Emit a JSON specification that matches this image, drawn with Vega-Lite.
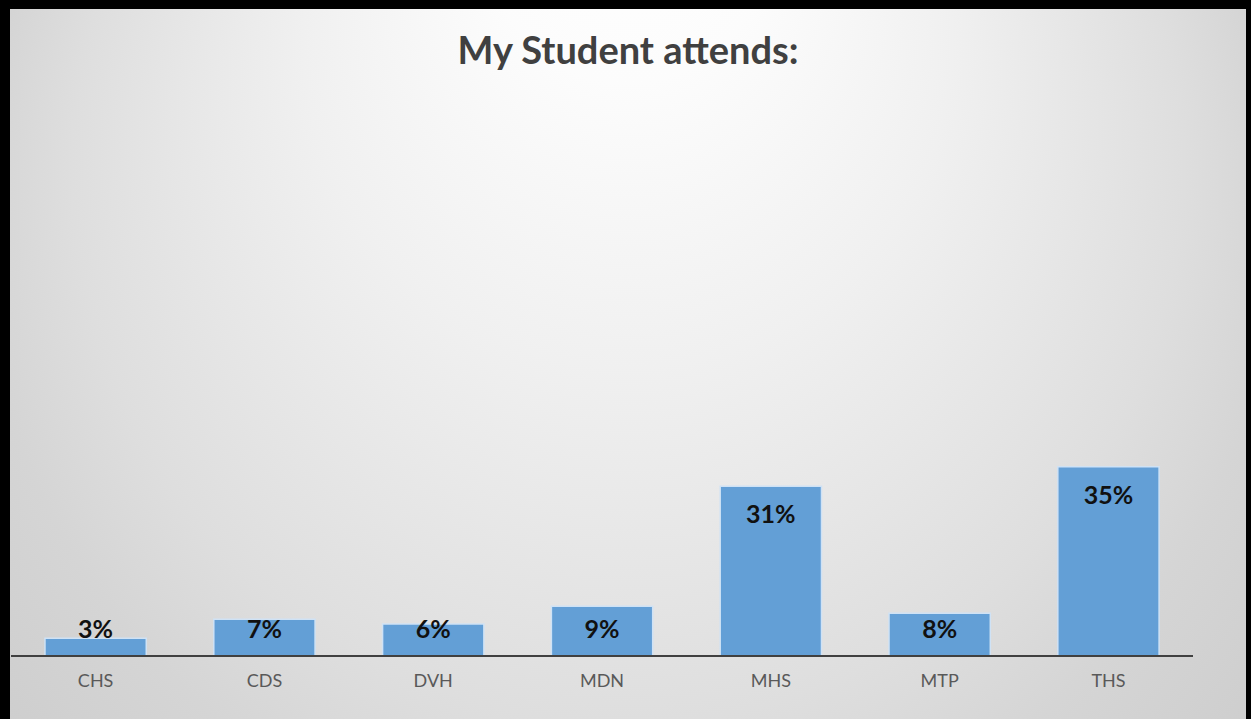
{
  "$schema": "https://vega.github.io/schema/vega-lite/v6.json",
  "width": 1251,
  "height": 719,
  "autosize": {"type": "fit", "contains": "padding"},
  "padding": {"left": 10, "top": 9, "right": 5, "bottom": 0},
  "background": "#000000",
  "title": {
    "text": "My Student attends:",
    "font": "Lato",
    "fontSize": 38,
    "fontWeight": "bold",
    "color": "#404040",
    "anchor": "middle",
    "offset": -63
  },
  "data": {
    "values": [
      {"school": "CHS", "share": 0.033},
      {"school": "CDS", "share": 0.068},
      {"school": "DVH", "share": 0.059},
      {"school": "MDN", "share": 0.092},
      {"school": "MHS", "share": 0.313},
      {"school": "MTP", "share": 0.079},
      {"school": "THS", "share": 0.349}
    ]
  },
  "encoding": {
    "x": {
      "field": "school",
      "type": "nominal",
      "sort": null,
      "scale": {"paddingInner": 0.4, "paddingOuter": 0.361, "align": 0.287},
      "axis": {
        "title": null,
        "orient": "bottom",
        "offset": -63,
        "ticks": false,
        "domain": false,
        "labelAngle": 0,
        "labelFont": "Lato",
        "labelFontSize": 18,
        "labelColor": "#595959",
        "labelPadding": 16,
        "grid": false
      }
    }
  },
  "layer": [
    {
      "mark": {"type": "bar", "color": "#639fd6", "stroke": "#cfe2f5", "strokeWidth": 1.5},
      "encoding": {
        "y": {
          "field": "share",
          "type": "quantitative",
          "scale": {"domain": [-0.1162, 1.1937], "nice": false, "zero": false},
          "axis": null
        },
        "y2": {"datum": 0}
      }
    },
    {
      "mark": {"type": "rule", "color": "#404040", "strokeWidth": 2, "xOffset": -84.4, "x2Offset": 84.4},
      "encoding": {
        "x": {"datum": "CHS"},
        "x2": {"datum": "THS"},
        "y": {"datum": 0, "type": "quantitative"}
      }
    },
    {
      "transform": [{"filter": "datum.share >= 0.2"}],
      "mark": {"type": "text", "font": "Lato", "fontSize": 25, "fontWeight": "bold", "color": "#111111", "baseline": "middle", "dy": 29},
      "encoding": {
        "y": {"field": "share", "type": "quantitative"},
        "text": {"field": "share", "type": "quantitative", "format": ".0%"}
      }
    },
    {
      "transform": [{"filter": "datum.share < 0.2"}],
      "mark": {"type": "text", "font": "Lato", "fontSize": 25, "fontWeight": "bold", "color": "#111111", "baseline": "middle", "dy": -26},
      "encoding": {
        "y": {"datum": 0, "type": "quantitative"},
        "text": {"field": "share", "type": "quantitative", "format": ".0%"}
      }
    }
  ],
  "config": {
    "view": {
      "stroke": null,
      "fill": {
        "gradient": "radial",
        "x1": 0.5, "y1": 0.1, "r1": 0,
        "x2": 0.5, "y2": 0.5, "r2": 0.75,
        "stops": [
          {"offset": 0, "color": "#ffffff"},
          {"offset": 0.15, "color": "#fcfcfc"},
          {"offset": 0.35, "color": "#f0f0f0"},
          {"offset": 0.6, "color": "#dedede"},
          {"offset": 0.7, "color": "#d5d5d5"},
          {"offset": 0.9, "color": "#cacaca"},
          {"offset": 1, "color": "#c6c6c6"}
        ]
      }
    }
  }
}
